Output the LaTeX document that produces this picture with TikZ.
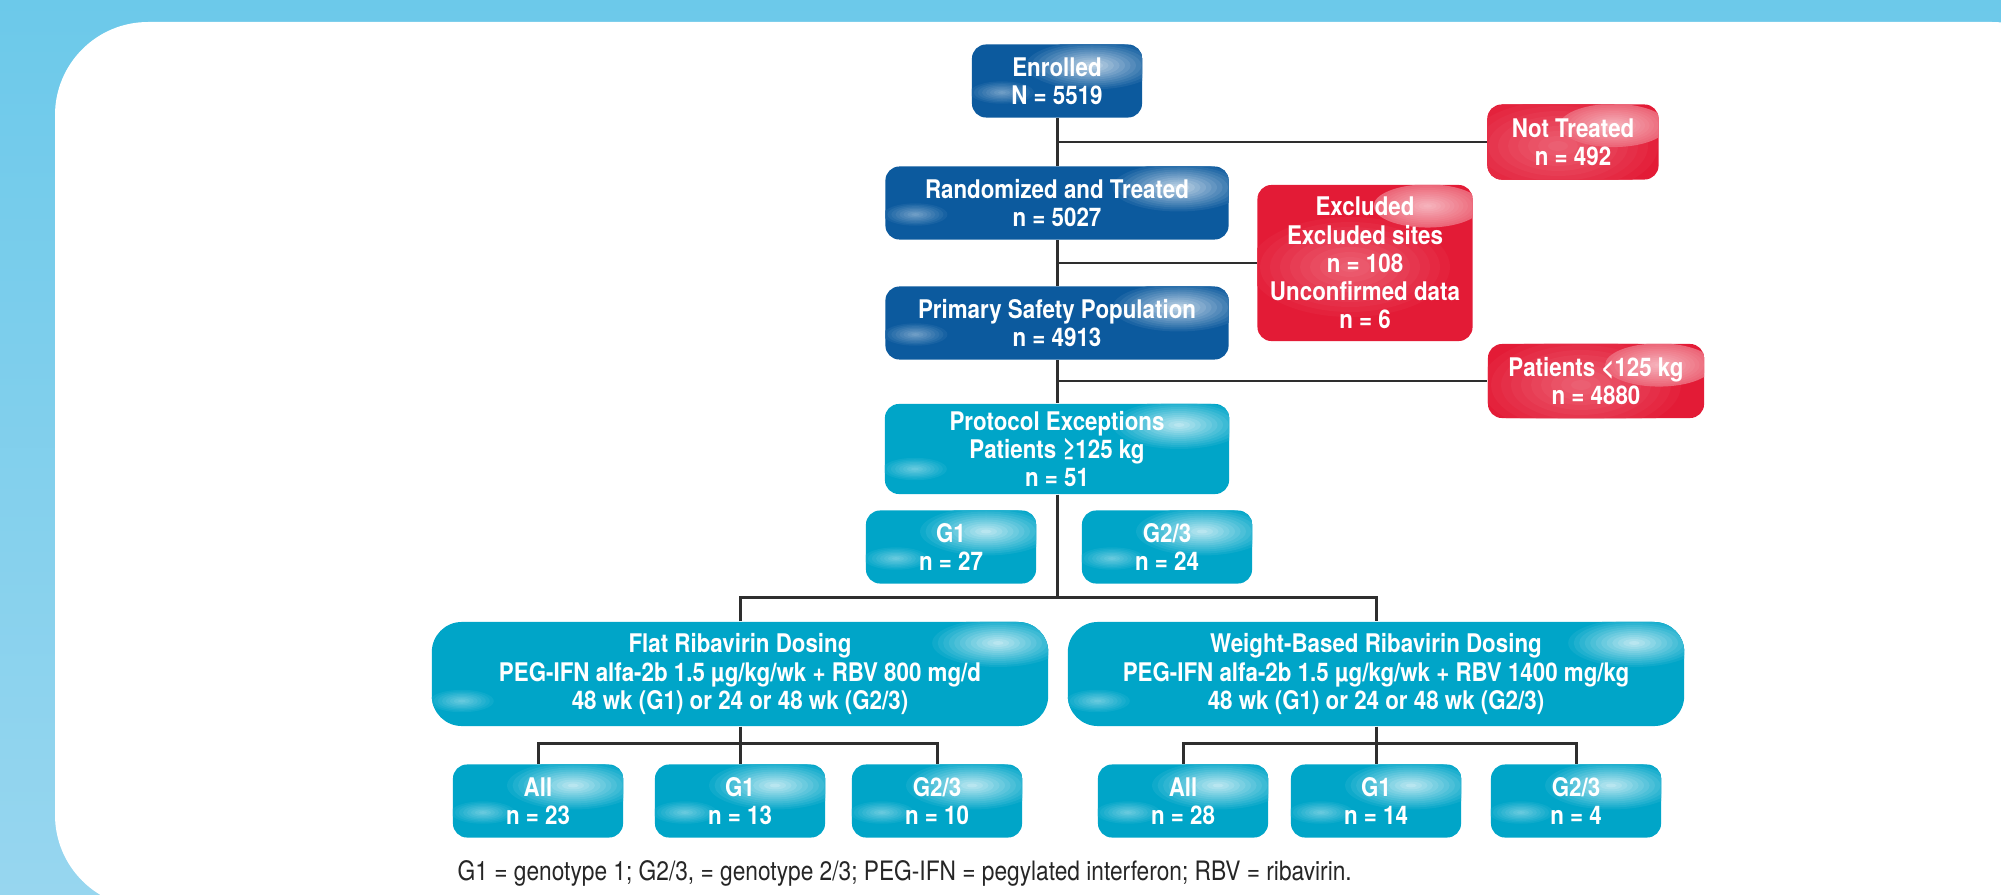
\documentclass[tikz,border=0pt]{standalone}
\usepackage{fontspec}
\setmainfont{TeX Gyre Heros}[FakeStretch=0.87]
\newfontfamily\notefont{TeX Gyre Heros}[FakeStretch=0.85]
\definecolor{bandtop}{HTML}{6CC9EA}
\definecolor{bandlow}{HTML}{97D6EF}
\definecolor{navybox}{HTML}{0C5A9E}
\definecolor{tealbox}{HTML}{00A5C8}
\definecolor{redbox}{HTML}{E31B36}
\definecolor{linkgray}{HTML}{2E2E2E}

\begin{document}
\begin{tikzpicture}[x=0.01cm, y=-0.01cm,
  gloss/.style={path picture={
    % soft highlight, upper right
    \foreach \k in {1,...,12}{
      \pgfmathtruncatemacro\mix{6*\k}
      \fill[white!\mix!#1] ([shift={(-50,21)}]path picture bounding box.north east)
        ellipse ({5.5*(13-\k)} and {2*(13-\k)});
    }
    % soft highlight, lower left
    \foreach \k in {1,...,8}{
      \pgfmathtruncatemacro\mix{5*\k}
      \fill[white!\mix!#1] ([shift={(30,-25)}]path picture bounding box.south west)
        ellipse ({4*(9-\k)} and {1.4*(9-\k)});
    }
  }},
  redgloss/.style={path picture={
    \foreach \k in {1,...,10}{
      \pgfmathtruncatemacro\mix{3*\k}
      \fill[white!\mix!redbox] ([shift={(-15,4)}]path picture bounding box.center)
        ellipse ({10*(11-\k)} and {5*(11-\k)});
    }
    \foreach \k in {1,...,12}{
      \pgfmathtruncatemacro\mix{30+3*\k}
      \fill[white!\mix!redbox] ([shift={(-45,21)}]path picture bounding box.north east)
        ellipse ({4.5*(13-\k)} and {1.8*(13-\k)});
    }
  }},
  box/.style={rounded corners=0.14cm, minimum width=1.70cm, minimum height=0.73cm,
    inner sep=0pt, align=center, text=white,
    font=\bfseries\fontsize{7.3pt}{8pt}\selectfont},
  navy/.style={box, fill=navybox, gloss=navybox},
  teal/.style={box, fill=tealbox, gloss=tealbox},
  reject/.style={box, fill=redbox, redgloss},
  dosing/.style={teal, rounded corners=0.3cm, minimum width=6.16cm, minimum height=1.04cm},
  link/.style={draw=linkgray, line width=0.85pt}]

  \path[use as bounding box] (0,0) rectangle (2001,894);

  % Background panel
  \begin{scope}
    \clip (0,0) rectangle (2001,894);
    \fill[top color=bandtop, bottom color=bandlow] (0,0) rectangle (2001,894);
    \fill[white, rounded corners=0.93cm] (55,22) rectangle (2085,908);
  \end{scope}

  % Main column
  \node[navy] (enrolled) at (1057,81) {Enrolled\\N = 5519};
  \node[navy, minimum width=3.43cm] (randomized) at (1057,203) {Randomized and Treated\\n = 5027};
  \node[navy, minimum width=3.43cm] (primary) at (1057,323) {Primary Safety Population\\n = 4913};
  \node[teal, minimum width=3.44cm, minimum height=0.90cm] (protocol) at (1057,449)
    {Protocol Exceptions\\Patients ≥125 kg\\n = 51};

  % Side boxes
  \node[reject, minimum width=1.71cm, minimum height=0.75cm] (nottreated) at (1573,142) {Not Treated\\n = 492};
  \node[reject, minimum width=2.15cm, minimum height=1.56cm] (excluded) at (1365,263)
    {Excluded\\Excluded sites\\n = 108\\Unconfirmed data\\n = 6};
  \node[reject, minimum width=2.16cm, minimum height=0.74cm] (patients) at (1596,381) {Patients <125 kg\\n = 4880};

  % Genotype split
  \node[teal] (g1) at (951,547) {G1\\n = 27};
  \node[teal] (g23) at (1167,547) {G2/3\\n = 24};

  % Dosing arms
  \node[dosing] (flat) at (740,674)
    {Flat Ribavirin Dosing\\PEG-IFN alfa-2b 1.5 µg/kg/wk + RBV 800 mg/d\\48 wk (G1) or 24 or 48 wk (G2/3)};
  \node[dosing] (weight) at (1376,674)
    {Weight-Based Ribavirin Dosing\\PEG-IFN alfa-2b 1.5 µg/kg/wk + RBV 1400 mg/kg\\48 wk (G1) or 24 or 48 wk (G2/3)};

  % Flat arm subgroups
  \node[teal] (fall) at (538,801) {All\\n = 23};
  \node[teal] (fg1) at (740,801) {G1\\n = 13};
  \node[teal] (fg23) at (937,801) {G2/3\\n = 10};

  % Weight-based arm subgroups
  \node[teal] (wall) at (1183,801) {All\\n = 28};
  \node[teal] (wg1) at (1376,801) {G1\\n = 14};
  \node[teal] (wg23) at (1576,801) {G2/3\\n = 4};

  % Connectors
  \coordinate (armsplit) at (1057,597);
  \coordinate (flatsplit) at (740,743);
  \coordinate (weightsplit) at (1376,743);
  \draw[link] (enrolled.south) -- (randomized.north);
  \draw[link] (randomized.south) -- (primary.north);
  \draw[link] (primary.south) -- (protocol.north);
  \draw[link] (protocol.south) -- (armsplit);
  \draw[link] (enrolled.south |- nottreated.west) -- (nottreated.west);
  \draw[link] (randomized.south |- excluded.west) -- (excluded.west);
  \draw[link] (primary.south |- patients.west) -- (patients.west);
  \draw[link] (flat.north) |- (armsplit) -| (weight.north);
  \draw[link] (flat.south) -- (flatsplit);
  \draw[link] (fall.north) |- (flatsplit) -| (fg23.north);
  \draw[link] (flatsplit) -- (fg1.north);
  \draw[link] (weight.south) -- (weightsplit);
  \draw[link] (wall.north) |- (weightsplit) -| (wg23.north);
  \draw[link] (weightsplit) -- (wg1.north);

  % Footnote
  \node[anchor=base west, inner sep=0pt, text=black!85, font=\notefont\fontsize{7.6pt}{9pt}\selectfont] (note) at (457,880)
    {G1 = genotype 1; G2/3, = genotype 2/3; PEG-IFN = pegylated interferon; RBV = ribavirin.};

\end{tikzpicture}
\end{document}
